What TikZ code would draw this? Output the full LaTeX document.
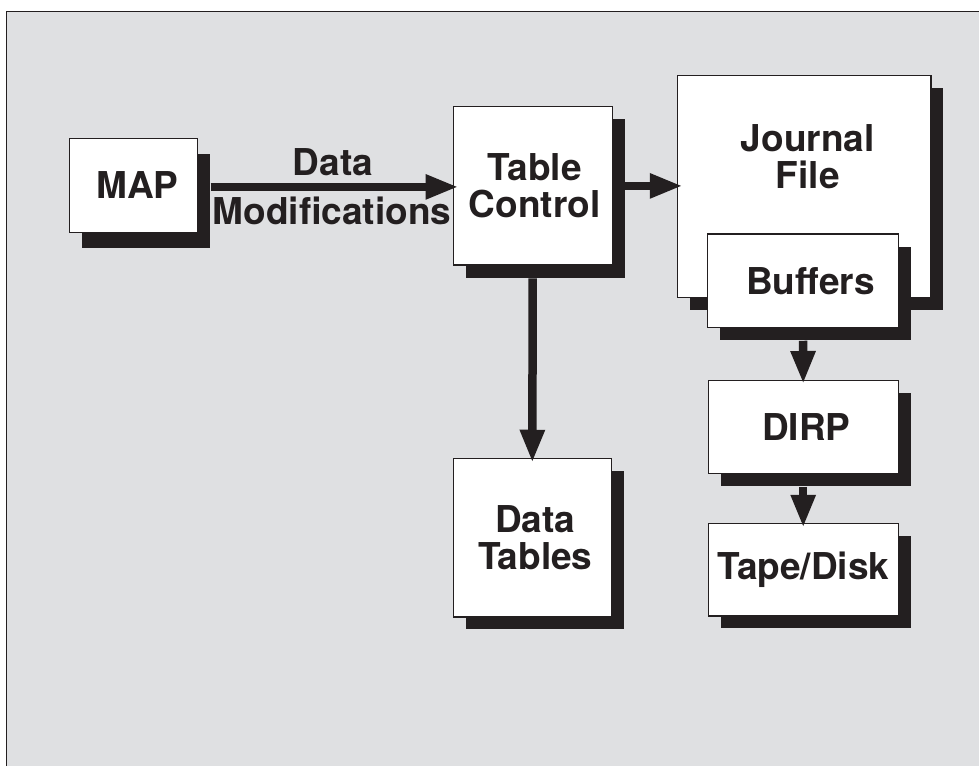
\documentclass[tikz,border=0pt]{standalone}
\usepackage{fontspec}
\setmainfont{TeX Gyre Heros}
\usetikzlibrary{arrows.meta,shadows}
\definecolor{bgc}{HTML}{DFE0E2}
\definecolor{ink}{HTML}{231F20}
\begin{document}
\begin{tikzpicture}[x=1pt,y=-1pt,
  txt/.style={font=\fontsize{37}{36.7}\selectfont\bfseries, text=ink, align=center, inner sep=0pt},
  box/.style={txt, draw=ink, line width=1.4pt, fill=white},
  dsh/.style={drop shadow={shadow xshift=12.5pt, shadow yshift=-#1, fill=ink, opacity=1}},
  dsh/.default=12.5pt,
  arr/.style={draw=ink, line width=8.5pt, -{Triangle[length=33pt,width=23pt]}}]
\fill[white] (0,0) rectangle (979,766);
\useasboundingbox (0,0) rectangle (979,766);
\fill[bgc] (6,11) rectangle (979,766);
\draw[ink, line width=1pt] (6,766) -- (6,11) -- (979,11);

\node[box, dsh=16pt, minimum width=128pt, minimum height=94pt] (map) at (133.5,185.4) {\hspace*{8pt}MAP};
\node[box, dsh, minimum width=159pt, minimum height=158.5pt] (tc) at (532.7,185.9) {\hspace*{4pt}Table\\\hspace*{4pt}Control};
\node[box, dsh, minimum width=158pt, minimum height=158.5pt] (dt) at (532.3,537.7) {\hspace*{6pt}Data\\\hspace*{6pt}Tables};
\node[box, dsh, minimum width=253.5pt, minimum height=221.5pt] (jf) at (804.2,186.5) {};
\node[txt] (jft) at (807.8,157) {Journal\\File};
\node[box, dsh, minimum width=191pt, minimum height=93.5pt] (buf) at (803,280.8) {\raisebox{-5pt}{\hspace*{15pt}Buffers}};
\node[box, dsh, minimum width=190pt, minimum height=93pt] (dirp) at (803.2,427.2) {\hspace*{6pt}DIRP};
\node[box, dsh, minimum width=190pt, minimum height=92.5pt] (tape) at (803.2,569.7) {Tape/Disk};

\node[txt, anchor=base] (l1) at (333,175) {Data};
\node[txt, anchor=base] (l2) at (332,224) {Modifications};

\draw[arr] ([xshift=12.5pt,yshift=-1.5pt]map.east) -- ([xshift=6pt,yshift=-1.5pt]map.east -| tc.west);
\draw[arr] ([xshift=12.5pt]tc.east) -- ([xshift=6pt]tc.east -| jf.west);
\draw[arr] ([yshift=-12.5pt]tc.south) -- ([yshift=-5pt]dt.north);
\draw[arr] ([yshift=-12.5pt]buf.south) -- ([yshift=-4pt]dirp.north);
\draw[arr] ([yshift=-12.5pt]dirp.south) -- ([yshift=-5pt]tape.north);
\end{tikzpicture}
\end{document}
